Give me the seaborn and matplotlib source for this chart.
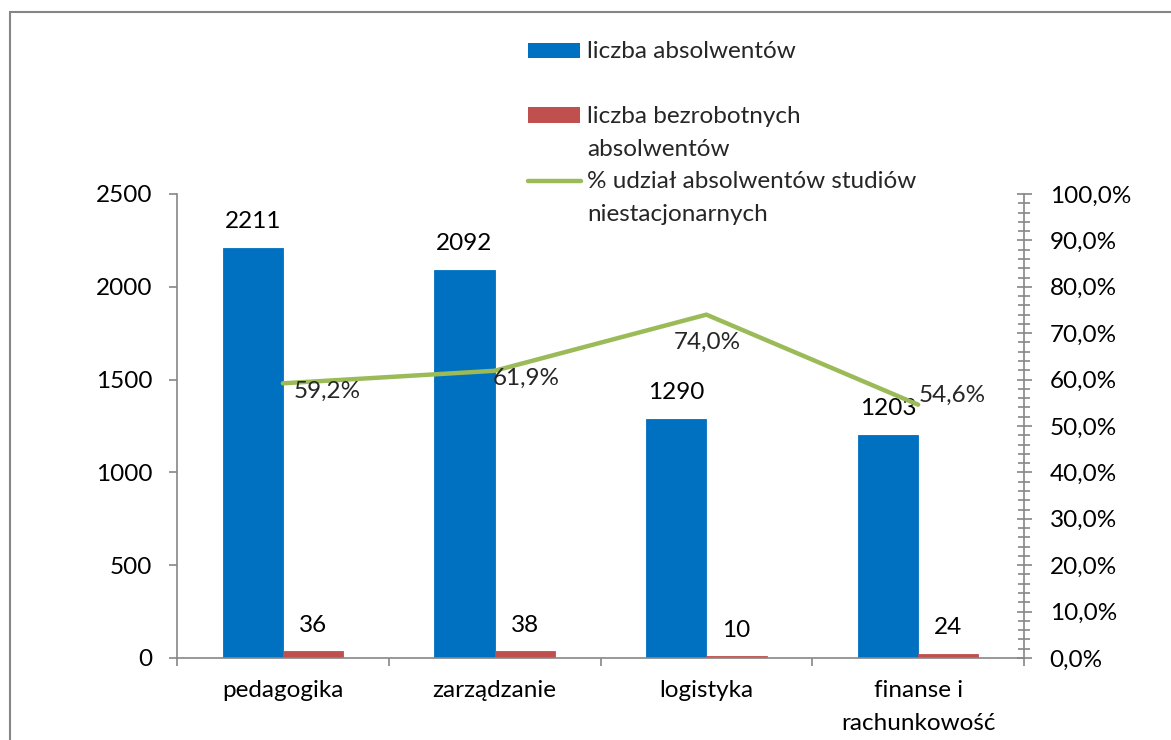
import numpy as np
import pandas as pd
import matplotlib
matplotlib.use("Agg")
import matplotlib.pyplot as plt
from matplotlib.patches import Rectangle
from matplotlib.lines import Line2D
from matplotlib.ticker import MultipleLocator, FuncFormatter
import seaborn as sns

# data
kierunki = ["pedagogika", "zarządzanie", "logistyka", "finanse i\nrachunkowość"]
absolwenci = [2211, 2092, 1290, 1203]
bezrobotni = [36, 38, 10, 24]
udzial = [59.2, 61.9, 74.0, 54.6]
serie = ["liczba absolwentów", "liczba bezrobotnych\nabsolwentów"]
seria_linii = "% udział absolwentów studiów\nniestacjonarnych"

BLUE = "#0070C0"
RED = "#C0504D"
GREEN = "#9BBB59"
GREY = "#868686"
FS = 17.5

sns.set_theme(style="white")
plt.rcParams["font.family"] = ["Lato", "DejaVu Sans"]

W, H = 1171, 740
fig = plt.figure(figsize=(W / 100, H / 100), dpi=100)

def fx(px):
    return px / W

def fy(py):
    return 1 - py / H

ax = fig.add_axes([fx(177), fy(658), fx(1024) - fx(177), fy(194) - fy(658)])

df = pd.DataFrame({
    "kierunek": kierunki * 2,
    "seria": [serie[0]] * len(kierunki) + [serie[1]] * len(kierunki),
    "liczba": absolwenci + bezrobotni,
})
sns.barplot(data=df, x="kierunek", y="liczba", hue="seria", palette=[BLUE, RED],
            saturation=1, width=0.57, ax=ax, legend=False)
for p in ax.patches:
    # thin edge in the bar colour so the tiny bars stay visible
    p.set_edgecolor(p.get_facecolor())
    p.set_linewidth(0.6)
for cont in ax.containers:
    ax.bar_label(cont, padding=11, fontsize=FS, color="black")

ax.set_ylim(0, 2500)
ax.set_yticks(range(0, 2501, 500))
ax.set_xlabel("")
ax.set_ylabel("")

# secondary axis with the percentage line
ax2 = ax.twinx()
sns.lineplot(x=np.arange(len(kierunki)), y=udzial, ax=ax2, color=GREEN,
             linewidth=3.2, solid_capstyle="round")
ax2.set_ylim(0, 100)
ax2.set_yticks(range(0, 101, 10))
ax2.yaxis.set_minor_locator(MultipleLocator(2))
ax2.yaxis.set_major_formatter(FuncFormatter(lambda v, _: f"{v:.1f}%".replace(".", ",")))
ax2.set_ylabel("")

offsets = [(44, -8), (32, -8), (1, -28), (34, 9)]
for i, (v, off) in enumerate(zip(udzial, offsets)):
    ax2.annotate(f"{v:.1f}%".replace(".", ","), (i, v), xytext=off,
                 textcoords="offset pixels", ha="center", va="center", fontsize=FS)

ax.set_xlim(-0.5, len(kierunki) - 0.5)
ax.set_xticks(range(len(kierunki)))
ax.set_xticklabels(kierunki, linespacing=1.7)
ax.set_xticks(np.arange(-0.5, len(kierunki), 1), minor=True)

# spines and ticks
for sp in ["top", "right"]:
    ax.spines[sp].set_visible(False)
for sp in ["left", "bottom"]:
    ax.spines[sp].set_color(GREY)
    ax.spines[sp].set_linewidth(1.2)
for sp in ["top", "left", "bottom"]:
    ax2.spines[sp].set_visible(False)
ax2.spines["right"].set_color(GREY)
ax2.spines["right"].set_linewidth(1.2)

ax.tick_params(axis="y", which="major", left=True, direction="out", length=5.8,
               width=1.2, color=GREY, pad=12, labelsize=FS, labelcolor="black")
ax.tick_params(axis="x", which="major", bottom=True, length=0, pad=16,
               labelsize=FS, labelcolor="black")
ax.tick_params(axis="x", which="minor", bottom=True, direction="out", length=5.8,
               width=1.2, color=GREY)
ax2.tick_params(axis="y", which="major", right=True, direction="inout", length=10.8,
                width=1.2, color=GREY, pad=13, labelsize=FS, labelcolor="black")
ax2.tick_params(axis="y", which="minor", right=True, direction="inout", length=9,
                width=1.2, color=GREY)

# legend drawn in figure pixels, as in the original layout
fig.add_artist(Rectangle((fx(528), fy(58)), fx(52), fy(43) - fy(58),
                         facecolor=BLUE, edgecolor="none", transform=fig.transFigure))
fig.add_artist(Rectangle((fx(528), fy(123)), fx(52), fy(107) - fy(123),
                         facecolor=RED, edgecolor="none", transform=fig.transFigure))
fig.add_artist(Line2D([fx(528), fx(581)], [fy(181), fy(181)], color=GREEN,
                      linewidth=3.2, solid_capstyle="round", transform=fig.transFigure))
legend_lines = [(serie[0], 58)]
for k, line in enumerate(serie[1].split("\n")):
    legend_lines.append((line, 123 + 33 * k))
for k, line in enumerate(seria_linii.split("\n")):
    legend_lines.append((line, 188 + 33 * k))
for txt, base in legend_lines:
    fig.text(fx(587), fy(base), txt, ha="left", va="baseline", fontsize=FS)

# chart frame
fig.add_artist(Rectangle((fx(10), -0.1), 1.2, fy(12) + 0.1, fill=False,
                         edgecolor=GREY, linewidth=1.5, transform=fig.transFigure))

fig.savefig("out.png", dpi=100)
